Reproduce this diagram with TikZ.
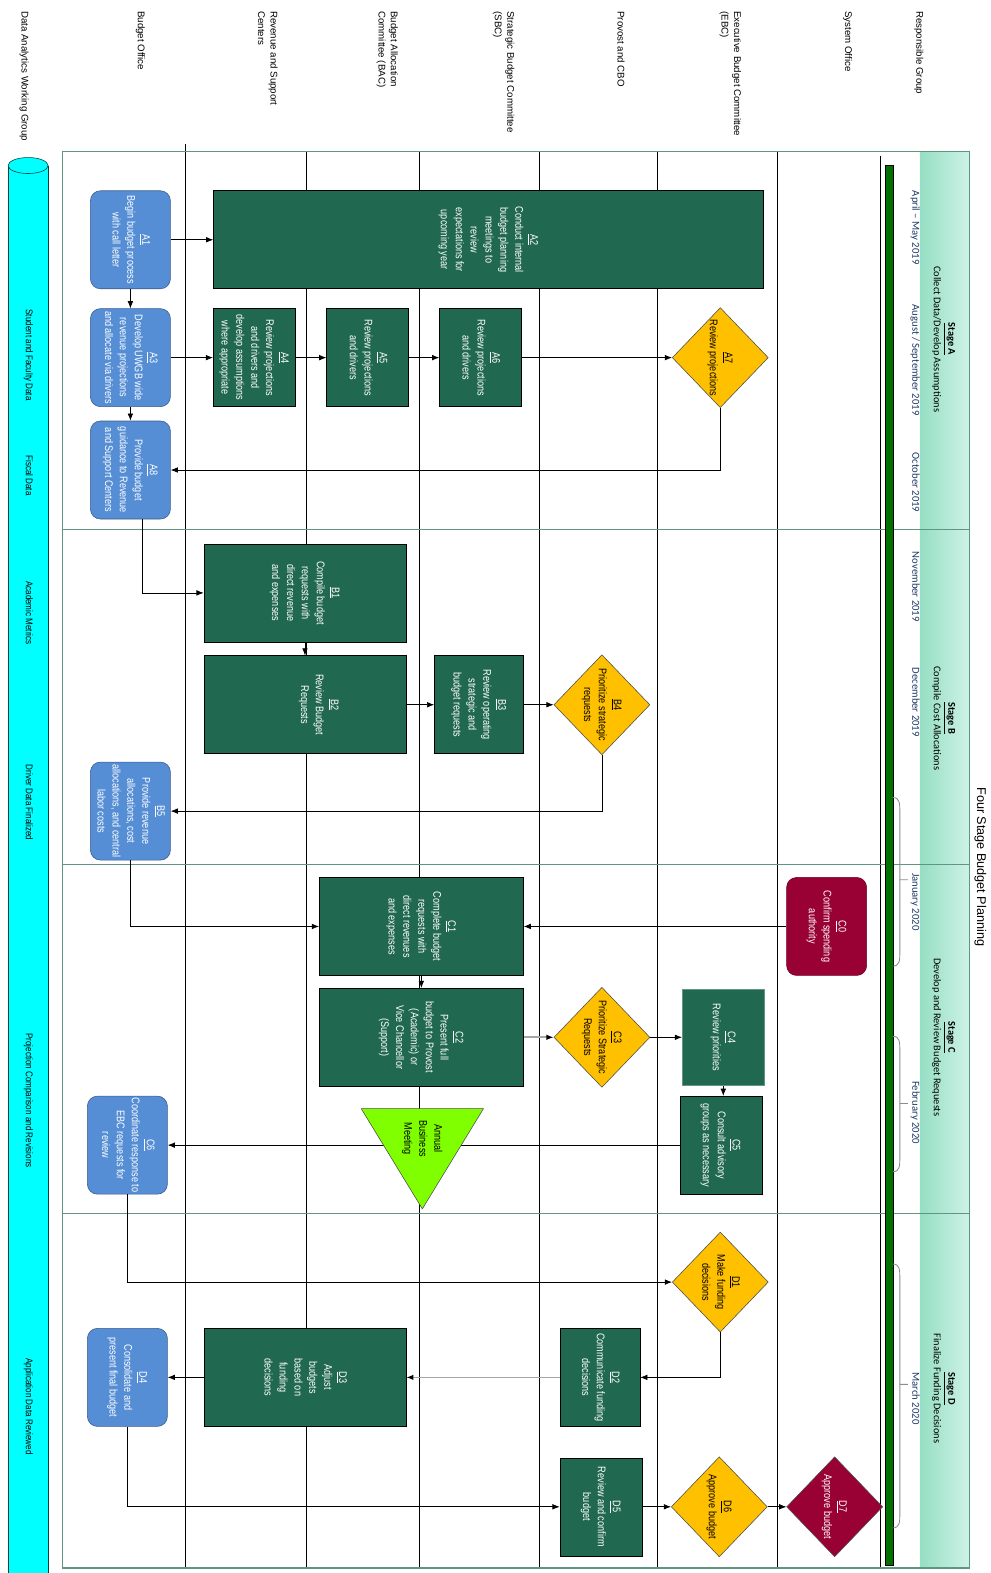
\documentclass[tikz,border=0pt]{standalone}
\usepackage{fontspec}
\setmainfont{Liberation Sans}
\newfontfamily\narrowfont[FakeStretch=0.82]{Liberation Sans}
\newfontfamily\calfont{Carlito}
\usepackage{tikz}
\usetikzlibrary{positioning,shapes.geometric,arrows.meta}
\definecolor{procgreen}{RGB}{33,104,80}
\definecolor{startblue}{RGB}{85,142,213}
\definecolor{startedge}{RGB}{60,90,140}
\definecolor{decgold}{RGB}{255,192,0}
\definecolor{sysmaroon}{RGB}{153,0,51}
\definecolor{meetlime}{RGB}{128,255,0}
\definecolor{framegreen}{RGB}{95,150,125}
\definecolor{bandleft}{RGB}{150,222,196}
\definecolor{bandright}{RGB}{205,242,230}
\definecolor{monthblue}{RGB}{31,56,100}
\definecolor{bargreen}{RGB}{0,112,0}
\definecolor{datacyan}{RGB}{0,255,255}
\newcommand{\rt}[1]{\rotatebox{-90}{\begin{tabular}{@{}c@{}}#1\end{tabular}}}
\newcommand{\rl}[1]{\rotatebox{-90}{\begin{tabular}{@{}l@{}}#1\end{tabular}}}
\newcommand{\boxfont}{\narrowfont\fontsize{7.9}{10.6}\selectfont}

\begin{document}
\begin{tikzpicture}[x=0.2508mm,y=-0.2508mm,
    proc/.style={rectangle,draw=black,fill=procgreen,text=white,font=\boxfont,inner sep=0pt,minimum width=20.5mm,minimum height=24.5mm},
    start/.style={rectangle,rounded corners=2.5mm,draw=startedge,fill=startblue,text=white,font=\boxfont,inner sep=0pt,minimum width=20mm,minimum height=24.5mm},
    authority/.style={start,draw=sysmaroon!70!black,fill=sysmaroon},
    decision/.style={diamond,draw=black!70,fill=decgold,inner sep=0pt,minimum width=24mm,minimum height=25mm},
    dtext/.style={font=\boxfont,text=black},
    header/.style={font=\fontsize{6.9}{8.8}\selectfont,inner sep=0pt,anchor=north},
    month/.style={font=\calfont\fontsize{7.6}{9}\selectfont,text=monthblue,inner sep=0pt},
    stagetext/.style={font=\calfont\fontsize{7.4}{10}\selectfont,inner sep=0pt},
    datatext/.style={font=\narrowfont\fontsize{7}{8}\selectfont,inner sep=0pt},
    lane/.style={black,line width=0.5pt},
    arr/.style={-{Latex[length=1.8mm,width=1.4mm]},line width=0.5pt},
    grayarr/.style={arr,draw=black!35,line width=1.2pt,-{Latex[length=1.8mm,width=1.4mm,color=black]}},
    brace/.style={draw=black!45,line width=0.6pt}]

    \useasboundingbox (0,0) rectangle (987,1568);

    % data cylinder
    \draw[fill=datacyan,draw=teal!50!black] (8,165) -- (8,1568) -- (48,1568) -- (48,165);
    \draw[fill=datacyan,draw=teal!50!black] (28,165) ellipse [x radius=5mm,y radius=2mm];
    \node[datatext] (d1) at (28,354) {\rt{Student and Faculty Data}};
    \node[datatext] (d2) at (28,474) {\rt{Fiscal Data}};
    \node[datatext] (d3) at (28,611) {\rt{Academic Metrics}};
    \node[datatext] (d4) at (28,800) {\rt{Driver Data Finalized}};
    \node[datatext] (d5) at (28,1097) {\rt{Projection Comparison and Revisions}};
    \node[datatext] (d6) at (28,1402) {\rt{Application Data Reviewed}};

    % lane headers
    \node[header] (h0) at (24,11) {\rl{Data Analytics Working Group}};
    \node[header] (h1) at (140,11) {\rl{Budget Office}};
    \node[header] (h2) at (266,11) {\rl{Revenue and Support\\Centers}};
    \node[header] (h3) at (386,11) {\rl{Budget Allocation\\Committee (BAC)}};
    \node[header] (h4) at (502,11) {\rl{Strategic Budget Committee\\(SBC)}};
    \node[header] (h5) at (618,11) {\rl{Provost and CBO}};
    \node[header] (h6) at (728,11) {\rl{Executive Budget Committee\\(EBC)}};
    \node[header] (h7) at (845,11) {\rl{System Office}};
    \node[header] (h8) at (916,11) {\rl{Responsible Group}};

    % stage band, lanes and frame
    \shade[left color=bandleft,right color=bandright] (917,151) rectangle (966,1563);
    \draw[lane] (185,144) -- (185,1563);
    \foreach \x in {305,418,538,655,775}
        \draw[lane] (\x,151) -- (\x,1563);
    \draw[lane] (878,155) -- (878,1563);
    \draw[framegreen,line width=0.8pt] (62,151) rectangle (966,1563);
    \foreach \y in {528,862,1210}
        \draw[framegreen,line width=0.8pt] (62,\y) -- (966,\y);

    % timeline
    \draw[fill=bargreen,draw=black,line width=0.4pt] (882,165) rectangle (890,1560);
    \foreach \ya/\yb/\ym in {795/963/877,1033/1168/1100,1260/1523/1380}
        \draw[brace] (890,\ya) .. controls (897,\ya) and (897,\ya+6) .. (897,\ya+15)
            -- (897,\yb-15) .. controls (897,\yb-6) and (897,\yb) .. (890,\yb)
            (897,\ym) -- (905,\ym);
    \node[month] (m1) at (912,227) {\rt{April – May 2019}};
    \node[month] (m2) at (912,359) {\rt{August / September 2019}};
    \node[month] (m3) at (912,481) {\rt{October 2019}};
    \node[month] (m4) at (912,585) {\rt{November 2019}};
    \node[month] (m5) at (912,700) {\rt{December 2019}};
    \node[month] (m6) at (912,899) {\rt{January 2020}};
    \node[month] (m7) at (912,1109) {\rt{February 2020}};
    \node[month] (m8) at (912,1394) {\rt{March 2020}};

    % stages
    \node[stagetext] (sA) at (941,338) {\rt{\underline{\textbf{Stage A}}\\Collect Data/Develop Assumptions}};
    \node[stagetext] (sB) at (941,716) {\rt{\underline{\textbf{Stage B}}\\Compile Cost Allocations}};
    \node[stagetext] (sC) at (941,1034) {\rt{\underline{\textbf{Stage C}}\\Develop and Review Budget Requests}};
    \node[stagetext] (sD) at (941,1384) {\rt{\underline{\textbf{Stage D}}\\Finalize Funding Decisions}};
    \node[font=\fontsize{9}{11}\selectfont,inner sep=0pt] (title) at (977,864) {\rt{Four Stage Budget Planning}};

    % Stage A
    \node[start] (A1) at (130,239) {\rt{\underline{A1}\\Begin budget process\\with call letter}};
    \node[proc,minimum width=137.5mm] (A2) at (487,239) {\rt{\underline{A2}\\Conduct internal\\budget planning\\meetings to\\review\\expectations for\\upcoming year}\hspace{15mm}};
    \node[start] (A3) at (130,356.5) {\rt{\underline{A3}\\Develop UWGB wide\\revenue projections\\and allocate via drivers}};
    \node[proc] (A4) at (253.5,356.5) {\rt{\underline{A4}\\Review projections\\and drivers and\\develop assumptions\\where appropriate}};
    \node[proc] (A5) at (366.5,356.5) {\rt{\underline{A5}\\Review projections\\and drivers}};
    \node[proc] (A6) at (479,356.5) {\rt{\underline{A6}\\Review projections\\and drivers}};
    \node[decision,label={[dtext]center:\rt{\underline{A7}\\Review projections}}] (A7) at (718,356.5) {};
    \node[start] (A8) at (130,468.5) {\rt{\underline{A8}\\Provide budget\\guidance to Revenue\\and Support Centers}};

    % Stage B
    \node[proc,minimum width=50.5mm] (B1) at (304,591) {\rt{\underline{B1}\\Compile budget\\requests with\\direct revenue\\and expenses}};
    \node[proc,minimum width=50.5mm] (B2) at (304,702.5) {\hspace{7mm}\rt{\underline{B2}\\Review Budget\\Requests}};
    \node[proc,minimum width=22.25mm] (B3) at (477.5,702.5) {\rt{\underline{B3}\\Review operating\\strategic and\\budget requests}};
    \node[decision,label={[dtext]center:\rt{\underline{B4}\\Prioritize strategic\\requests}}] (B4) at (600,702.5) {};
    \node[start] (B5) at (130,808.5) {\rt{\underline{B5}\\Provide revenue\\allocations, cost\\allocations, and central\\labor costs}};

    % Stage C
    \node[authority] (C0) at (824,923.5) {\rt{\underline{C0}\\Confirm spending\\authority}};
    \node[proc,minimum width=51mm] (C1) at (420,923.5) {\rt{\underline{C1}\\Complete budget\\requests with\\direct revenues\\and expenses}};
    \node[proc,minimum width=51mm] (C2) at (420,1034) {\rt{\underline{C2}\\Present full\\budget to Provost\\(Academic) or\\Vice Chancellor\\(Support)}};
    \node[decision,label={[dtext]center:\rt{\underline{C3}\\Prioritize Strategic\\Requests}}] (C3) at (600,1034) {};
    \node[proc,draw=procgreen!70,minimum height=24mm] (C4) at (721,1034) {\rt{\underline{C4}\\Review priorities}};
    \node[proc] (C5) at (718.5,1141.5) {\rt{\underline{C5}\\Consult advisory\\groups as necessary}};
    \node[start] (C6) at (127,1141.5) {\rt{\underline{C6}\\Coordinate response to\\EBC requests for\\review}};

    % Stage D
    \node[decision,label={[dtext]center:\rt{\underline{D1}\\Make funding\\decisions}}] (D1) at (718,1278) {};
    \node[proc,minimum width=20mm] (D2) at (598,1373) {\rt{\underline{D2}\\Communicate funding\\decisions}};
    \node[proc,minimum width=50.5mm] (D3) at (304,1373) {\rt{\underline{D3}\\Adjust\\budgets\\based on\\funding\\decisions}};
    \node[start] (D4) at (127,1373) {\rt{\underline{D4}\\Consolidate and\\present final budget}};
    \node[proc] (D5) at (599,1502) {\rt{\underline{D5}\\Review and confirm\\budget}};
    \node[decision,label={[dtext]center:\rt{\underline{D6}\\Approve budget}}] (D6) at (717,1502) {};
    \node[decision,fill=sysmaroon,label={[dtext,text=white]center:\rt{\underline{D7}\\Approve budget}}] (D7) at (832,1502) {};

    % connectors
    \draw[arr] (A1.east) -- (A2.west);
    \draw[arr] (A1.south) -- (A3.north);
    \draw[arr] (A3.east) -- (A4.west);
    \draw[arr] (A4.east) -- (A5.west);
    \draw[arr] (A5.east) -- (A6.west);
    \draw[arr] (A6.east) -- (A7.west);
    \draw[arr] (A3.south) -- (A8.north);
    \draw[arr] (A7.south) |- (A8.east);
    \draw[arr] ([xshift=3mm]A8.south) |- (B1.west);
    \draw[arr] (B1.south) -- (B2.north);
    \draw[arr] (B2.east) -- (B3.west);
    \draw[arr] (B3.east) -- (B4.west);
    \draw[arr] (B4.south) |- (B5.east);
    \draw[arr] (B5.south) |- (C1.west);
    \draw[arr] (C0.west) -- (C1.east);
    \draw[arr] (C1.south) -- (C2.north);
    \draw[grayarr] (C2.east) -- (C3.west);
    \draw[arr] (C3.east) -- (C4.west);
    \draw[arr] (C4.south) -- (C4.south |- C5.north);
    \draw[arr] (C5.west) -- (C6.east);
    \draw[arr] (C6.south) |- (D1.west);
    \draw[arr] (D1.south) |- (D2.east);
    \draw[grayarr] (D2.west) -- (D3.east);
    \draw[arr] (D3.west) -- (D4.east);
    \draw[arr] (D4.south) |- (D5.west);
    \draw[arr] (D5.east) -- (D6.west);
    \draw[arr] (D6.east) -- (D7.west);

    % annual meeting
    \draw[fill=meetlime,draw=black!70] (360,1105) -- (482,1105) -- (421,1205) -- cycle;
    \node[dtext,inner sep=0pt] (meet) at (421,1135) {\rt{Annual\\Business\\Meeting}};

\end{tikzpicture}
\end{document}
